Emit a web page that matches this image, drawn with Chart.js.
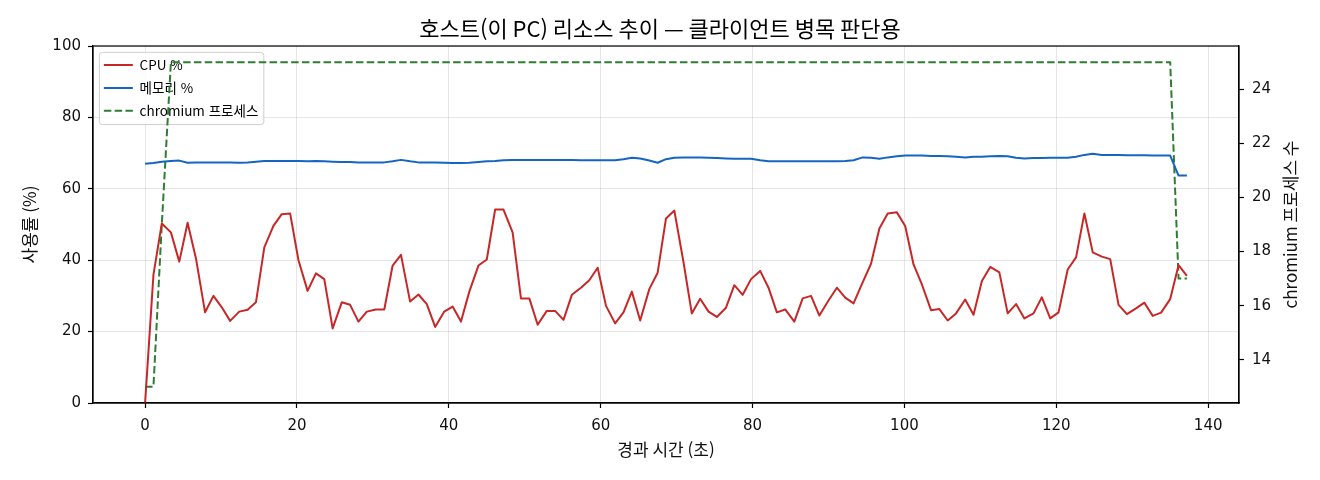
<!DOCTYPE html>
<html lang="ko">
<head>
<meta charset="utf-8">
<title>호스트 리소스 추이</title>
<script src="https://cdn.jsdelivr.net/npm/chart.js@4.4.1/dist/chart.umd.min.js"></script>
<style>
  html, body { margin: 0; padding: 0; background: #fff; }
  #wrap { width: 1320px; height: 480px; }
</style>
</head>
<body>
<div id="wrap"><canvas id="chart" width="1320" height="480"></canvas></div>
<script>
// 샘플 시각 (초) — 약 1.1초 간격
const times = [
  0.0, 1.1, 2.2, 3.4, 4.5, 5.6, 6.7, 7.9, 9.0, 10.1,
  11.2, 12.4, 13.5, 14.6, 15.7, 16.9, 18.0, 19.1, 20.2, 21.4,
  22.5, 23.6, 24.7, 25.9, 27.0, 28.1, 29.2, 30.4, 31.5, 32.6,
  33.7, 34.9, 36.0, 37.1, 38.2, 39.4, 40.5, 41.6, 42.7, 43.9,
  45.0, 46.1, 47.2, 48.4, 49.5, 50.6, 51.7, 52.9, 54.0, 55.1,
  56.2, 57.4, 58.5, 59.6, 60.7, 61.9, 63.0, 64.1, 65.2, 66.4,
  67.5, 68.6, 69.7, 70.9, 72.0, 73.1, 74.2, 75.3, 76.5, 77.6,
  78.7, 79.8, 81.0, 82.1, 83.2, 84.3, 85.5, 86.6, 87.7, 88.8,
  90.0, 91.1, 92.2, 93.3, 94.5, 95.6, 96.7, 97.8, 99.0, 100.1,
  101.2, 102.3, 103.5, 104.6, 105.7, 106.8, 108.0, 109.1, 110.2, 111.3,
  112.5, 113.6, 114.7, 115.8, 117.0, 118.1, 119.2, 120.3, 121.5, 122.6,
  123.7, 124.8, 126.0, 127.1, 128.2, 129.3, 130.5, 131.6, 132.7, 133.8,
  135.0, 136.1, 137.2
];

const cpuPct = [
  0, 35.9, 50.3, 47.8, 39.6, 50.5, 40.5, 25.4, 30.0, 26.8,
  23.0, 25.6, 26.1, 28.2, 43.6, 49.6, 52.9, 53.1, 40.0, 31.4,
  36.3, 34.7, 20.9, 28.2, 27.5, 22.8, 25.6, 26.2, 26.2, 38.5,
  41.5, 28.4, 30.4, 27.7, 21.3, 25.6, 27.0, 22.8, 31.2, 38.5,
  40.2, 54.2, 54.2, 47.8, 29.3, 29.3, 21.9, 25.8, 25.8, 23.3,
  30.3, 32.3, 34.4, 37.9, 27.2, 22.3, 25.4, 31.2, 23.1, 31.9,
  36.5, 51.7, 53.9, 39.5, 25.1, 29.2, 25.6, 24.1, 26.7, 33.0,
  30.3, 34.7, 37.0, 32.3, 25.4, 26.2, 22.8, 29.3, 30.0, 24.5,
  28.7, 32.3, 29.5, 27.9, 33.8, 39.0, 48.9, 53.1, 53.4, 49.6,
  38.8, 33.2, 26.0, 26.3, 23.1, 25.1, 29.0, 24.7, 34.2, 38.1,
  36.6, 25.1, 27.7, 23.7, 25.1, 29.6, 23.7, 25.4, 37.4, 40.8,
  53.1, 42.2, 41.0, 40.3, 27.5, 24.9, 26.5, 28.1, 24.4, 25.3,
  29.1, 38.6, 35.6
];

const memPct = [
  67.0, 67.2, 67.6, 67.8, 67.9, 67.3, 67.4, 67.4, 67.4, 67.4,
  67.4, 67.3, 67.4, 67.6, 67.8, 67.8, 67.8, 67.8, 67.8, 67.7,
  67.8, 67.7, 67.6, 67.5, 67.5, 67.4, 67.4, 67.4, 67.4, 67.7,
  68.1, 67.7, 67.4, 67.4, 67.4, 67.3, 67.2, 67.2, 67.3, 67.5,
  67.7, 67.8, 68.0, 68.1, 68.1, 68.1, 68.1, 68.1, 68.1, 68.1,
  68.1, 68.0, 68.0, 68.0, 68.0, 68.0, 68.3, 68.7, 68.5, 67.9,
  67.3, 68.3, 68.7, 68.8, 68.8, 68.8, 68.7, 68.6, 68.5, 68.4,
  68.4, 68.4, 68.0, 67.7, 67.7, 67.7, 67.7, 67.7, 67.7, 67.7,
  67.7, 67.7, 67.8, 68.0, 68.8, 68.7, 68.4, 68.8, 69.1, 69.3,
  69.3, 69.3, 69.2, 69.2, 69.1, 69.0, 68.8, 69.0, 69.0, 69.1,
  69.2, 69.1, 68.7, 68.5, 68.6, 68.6, 68.7, 68.7, 68.7, 69.0,
  69.5, 69.8, 69.5, 69.5, 69.5, 69.4, 69.4, 69.4, 69.3, 69.3,
  69.3, 63.7, 63.7
];

const chromiumProcs = [
  13, 13, 19, 25, 25, 25, 25, 25, 25, 25,
  25, 25, 25, 25, 25, 25, 25, 25, 25, 25,
  25, 25, 25, 25, 25, 25, 25, 25, 25, 25,
  25, 25, 25, 25, 25, 25, 25, 25, 25, 25,
  25, 25, 25, 25, 25, 25, 25, 25, 25, 25,
  25, 25, 25, 25, 25, 25, 25, 25, 25, 25,
  25, 25, 25, 25, 25, 25, 25, 25, 25, 25,
  25, 25, 25, 25, 25, 25, 25, 25, 25, 25,
  25, 25, 25, 25, 25, 25, 25, 25, 25, 25,
  25, 25, 25, 25, 25, 25, 25, 25, 25, 25,
  25, 25, 25, 25, 25, 25, 25, 25, 25, 25,
  25, 25, 25, 25, 25, 25, 25, 25, 25, 25,
  25, 17, 17
];

const xTicks  = [0, 20, 40, 60, 80, 100, 120, 140];
const yTicks  = [0, 20, 40, 60, 80, 100];
const y2Ticks = [14, 16, 18, 20, 22, 24];

const KR = "'Noto Sans CJK KR', 'Noto Sans', sans-serif";
const NUM = "'DejaVu Sans', 'Noto Sans CJK KR', sans-serif";
Chart.defaults.font.family = KR;
Chart.defaults.color = '#111';

const toPoints = vals => vals.map((v, i) => ({ x: times[i], y: v }));
const setTicks = list => scale => { scale.ticks = list.map(v => ({ value: v })); };

const gridColor = 'rgba(176,176,176,0.32)';
const tickFont = { family: NUM, size: 15 };
const labelFont = { size: 17 };

// 축 테두리(위쪽 포함) — 선 위에 그림
const axesFrame = {
  id: 'axesFrame',
  afterDatasetsDraw(chart) {
    const { ctx, chartArea: a } = chart;
    ctx.save();
    ctx.strokeStyle = '#000';
    ctx.lineWidth = 1.2;
    ctx.strokeRect(a.left, a.top, a.right - a.left, a.bottom - a.top);
    ctx.restore();
  }
};

// 오른쪽 축 제목: 아래에서 위로 읽히게 회전
const rightAxisTitle = {
  id: 'rightAxisTitle',
  afterDraw(chart) {
    const { ctx, chartArea: a } = chart;
    const s = chart.scales.y2;
    ctx.save();
    ctx.translate(s.right - 29, (a.top + a.bottom) / 2);
    ctx.rotate(-Math.PI / 2);
    ctx.font = '17px ' + KR;
    ctx.fillStyle = '#111';
    ctx.textAlign = 'center';
    ctx.textBaseline = 'middle';
    ctx.fillText('chromium 프로세스 수', 0, 0);
    ctx.restore();
  }
};

// 범례를 플롯 안 좌상단에 두고 테두리 상자를 그림
const legendBox = {
  id: 'legendBox',
  afterLayout(chart) {
    const lg = chart.legend, ca = chart.chartArea;
    if (!lg) return;
    lg.left = ca.left + 1.5;
    lg.top = ca.top + 3;
    lg.bottom = ca.bottom;
    if (lg._boxed) return;
    const drawItems = lg.draw.bind(lg);
    lg.draw = function () {
      const hb = lg.legendHitBoxes || [];
      if (hb.length) {
        const l = Math.min(...hb.map(b => b.left)) - 5;
        const t = Math.min(...hb.map(b => b.top)) - 6.5;
        const r = Math.max(...hb.map(b => b.left + b.width)) + 5;
        const b = Math.max(...hb.map(b => b.top + b.height)) + 6.5;
        const ctx = chart.ctx;
        ctx.save();
        ctx.beginPath();
        ctx.roundRect(l + 0.5, t + 0.5, r - l, b - t, 3);
        ctx.fillStyle = 'rgba(255,255,255,0.85)';
        ctx.fill();
        ctx.strokeStyle = '#cfcfcf';
        ctx.lineWidth = 1;
        ctx.stroke();
        ctx.restore();
      }
      drawItems();
    };
    lg._boxed = true;
  }
};

const ctx = document.getElementById('chart').getContext('2d');
new Chart(ctx, {
  type: 'line',
  data: {
    datasets: [
      { label: 'CPU %', data: toPoints(cpuPct), borderColor: '#c62828', borderWidth: 2, yAxisID: 'y' },
      { label: '메모리 %', data: toPoints(memPct), borderColor: '#1565c0', borderWidth: 2, yAxisID: 'y' },
      { label: 'chromium 프로세스', data: toPoints(chromiumProcs), borderColor: '#2e7d32', borderWidth: 2,
        borderDash: [7.5, 3.3], yAxisID: 'y2' }
    ]
  },
  options: {
    responsive: false,
    animation: false,
    devicePixelRatio: 1,
    layout: { padding: 0 },
    elements: {
      point: { radius: 0, hoverRadius: 0 },
      line: { tension: 0, fill: false, borderJoinStyle: 'round' }
    },
    plugins: {
      tooltip: { enabled: false },
      title: {
        display: true,
        text: '호스트(이 PC) 리소스 추이 — 클라이언트 병목 판단용',
        color: '#000',
        font: { size: 22, weight: 'normal' },
        padding: { top: 15.8, bottom: 3.8 }
      },
      legend: {
        position: 'chartArea',
        align: 'start',
        labels: {
          usePointStyle: true,
          pointStyleWidth: 29,
          padding: 9.35,
          color: '#111',
          font: { size: 13.5 },
          generateLabels: chart => chart.data.datasets.map((ds, i) => ({
            text: ds.label,
            datasetIndex: i,
            hidden: false,
            strokeStyle: ds.borderColor,
            fillStyle: ds.borderColor,
            lineWidth: ds.borderWidth,
            lineDash: ds.borderDash || [],
            lineCap: 'butt',
            pointStyle: 'line'
          }))
        }
      }
    },
    scales: {
      x: {
        type: 'linear',
        min: -6.86,
        max: 144.06,
        afterBuildTicks: setTicks(xTicks),
        afterFit: s => { s.height = 77; },
        grid: { color: gridColor, lineWidth: 1, tickColor: '#000', tickLength: 5, tickWidth: 1.2 },
        border: { color: '#000', width: 1.2 },
        ticks: { font: tickFont, color: '#111', padding: 9, maxRotation: 0, autoSkip: false },
        title: { display: true, text: '경과 시간 (초)', color: '#111', font: labelFont, padding: { top: 4, bottom: 19.8 } }
      },
      y: {
        type: 'linear',
        position: 'left',
        min: 0,
        max: 100,
        afterBuildTicks: setTicks(yTicks),
        afterFit: s => { s.width = 93; },
        grid: { color: gridColor, lineWidth: 1, tickColor: '#000', tickLength: 5, tickWidth: 1.2 },
        border: { color: '#000', width: 1.2 },
        ticks: { font: tickFont, color: '#111', padding: 7 },
        title: { display: true, text: '사용률 (%)', color: '#111', font: labelFont, padding: { top: 19.8, bottom: 4 } }
      },
      y2: {
        type: 'linear',
        position: 'right',
        min: 12.4,
        max: 25.6,
        afterBuildTicks: setTicks(y2Ticks),
        afterFit: s => { s.width = 81; },
        grid: { drawOnChartArea: false, tickColor: '#000', tickLength: 5, tickWidth: 1.2 },
        border: { color: '#000', width: 1.2 },
        ticks: { font: tickFont, color: '#111', padding: 8 },
        title: { display: false }
      }
    }
  },
  plugins: [axesFrame, legendBox, rightAxisTitle]
});
</script>
</body>
</html>
